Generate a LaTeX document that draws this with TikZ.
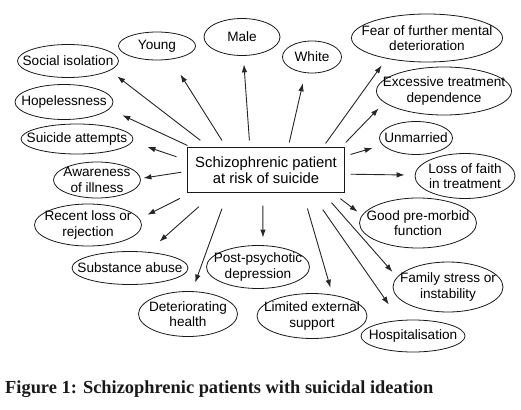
\documentclass[tikz,border=0pt]{standalone}
\usepackage{fontspec}
\setmainfont{Liberation Serif}
\newfontfamily\diagfont{Liberation Sans}
\usetikzlibrary{arrows.meta,shapes.geometric}

\begin{document}
\begin{tikzpicture}[x=1pt, y=1pt,
  fac/.style={ellipse, draw=black!90, line width=0.8pt, inner xsep=-60pt, inner ysep=-30pt, align=center, font=\diagfont\fontsize{13.6}{15.5}\selectfont},
  patbox/.style={draw=black!90, line width=1.1pt, minimum width=157pt, minimum height=45pt, align=center, font=\diagfont\fontsize{14.8}{15.5}\selectfont},
  arr/.style 2 args={draw=black!85, line width=0.9pt, -{Latex[length=8pt,width=5.5pt]}, shorten <=#1, shorten >=#2}]
\useasboundingbox (0,0) rectangle (521,-409);
\node[patbox] (pat) at (266,-170) {Schizophrenic patient\\at risk of suicide};
\node[fac, minimum width=101pt, minimum height=33pt] (fac0) at (68,-61) {Social isolation};
\draw[arr={10.8pt}{9.3pt}](pat.158) -- (fac0.-13);
\node[fac, minimum width=77pt, minimum height=28pt] (fac1) at (157,-46) {Young};
\draw[arr={7.7pt}{17.7pt}](pat.150) -- (fac1.-44);
\node[fac, minimum width=76pt, minimum height=37pt] (fac2) at (242,-37) {Male};
\draw[arr={6.5pt}{8.5pt}](pat.125) -- (fac2.-86);
\node[fac, minimum width=59pt, minimum height=32pt] (fac3) at (312,-57) {White};
\draw[arr={4.6pt}{10.6pt}](pat.46) -- (fac3.-113);
\node[fac, minimum width=151pt, minimum height=48pt] (fac4) at (427,-38) {Fear of further mental\\deterioration};
\draw[arr={4.3pt}{8.3pt}](pat.22) -- (fac4.-153);
\node[fac, minimum width=135pt, minimum height=48pt] (fac5) at (444,-91) {Excessive treatment\\dependence};
\draw[arr={6.5pt}{8pt}](pat.17) -- (fac5.-169);
\node[fac, minimum width=73pt, minimum height=33pt] (fac6) at (416,-138) {Unmarried};
\draw[arr={5.7pt}{10.3pt}](pat.10) -- (fac6.-168);
\node[fac, minimum width=100pt, minimum height=45pt] (fac7) at (465,-176) {Loss of faith\\in treatment};
\draw[arr={5.5pt}{10pt}](pat.-3) -- (fac7.179);
\node[fac, minimum width=117pt, minimum height=50pt] (fac8) at (418,-223) {Good pre-morbid\\function};
\draw[arr={9.3pt}{5.5pt}](pat.-19) -- (fac8.172);
\node[fac, minimum width=110pt, minimum height=50pt] (fac9) at (448,-287) {Family stress or\\instability};
\draw[arr={12.8pt}{6.8pt}](pat.-22) -- (fac9.169);
\node[fac, minimum width=104pt, minimum height=32pt] (fac10) at (413,-336) {Hospitalisation};
\draw[arr={20.2pt}{19pt}](pat.-27) -- (fac10.130);
\node[fac, minimum width=110pt, minimum height=45pt] (fac11) at (312,-316) {Limited external\\support};
\draw[arr={16.1pt}{7.3pt}](pat.-32) -- (fac11.46);
\node[fac, minimum width=103pt, minimum height=43pt] (fac12) at (258,-267) {Post-psychotic\\depression};
\draw[arr={12.5pt}{7.6pt}](pat.-98) -- (fac12.77);
\node[fac, minimum width=99pt, minimum height=45pt] (fac13) at (188,-314) {Deteriorating\\health};
\draw[arr={16.6pt}{9.2pt}](pat.-149) -- (fac13.80);
\node[fac, minimum width=116pt, minimum height=33pt] (fac14) at (130,-268) {Substance abuse};
\draw[arr={20.5pt}{15.5pt}](pat.-156) -- (fac14.42);
\node[fac, minimum width=107pt, minimum height=42pt] (fac15) at (88,-225) {Recent loss or\\rejection};
\draw[arr={12pt}{8.7pt}](pat.-163) -- (fac15.7);
\node[fac, minimum width=87pt, minimum height=36pt] (fac16) at (97,-180) {Awareness\\of illness};
\draw[arr={5.6pt}{2.7pt}](pat.-179) -- (fac16.2);
\node[fac, minimum width=112pt, minimum height=30pt] (fac17) at (77,-139) {Suicide attempts};
\draw[arr={11.1pt}{15.9pt}](pat.173) -- (fac17.-3);
\node[fac, minimum width=98pt, minimum height=35pt] (fac18) at (64,-102) {Hopelessness};
\draw[arr={3.5pt}{14.3pt}](pat.163) -- (fac18.-9);
\node[anchor=base west, inner sep=0pt, text=black!90, font=\bfseries\fontsize{18.4}{20}\selectfont] (cap) at (5,-393) {Figure 1: Schizophrenic patients with suicidal ideation};
\end{tikzpicture}
\end{document}
